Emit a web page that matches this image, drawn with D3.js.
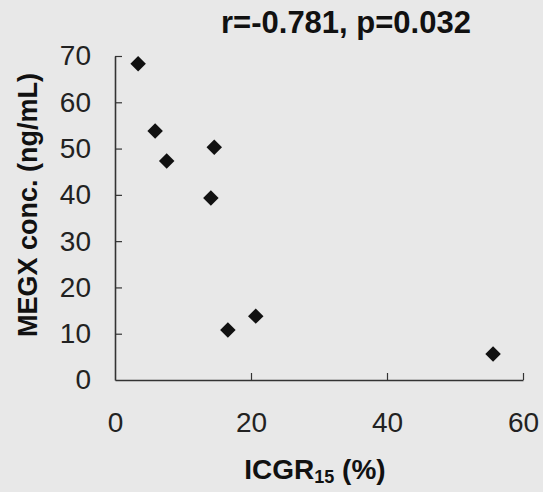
<!DOCTYPE html>
<html>
<head>
<meta charset="utf-8">
<script src="https://cdn.jsdelivr.net/npm/d3@7"></script>
<style>
  body { margin: 0; background: #e8e8e8; }
  text { font-family: "Liberation Sans", Arial, sans-serif; }
</style>
</head>
<body>
<div id="chart"></div>
<script>
// ICGR15 (%) vs MEGX concentration (ng/mL)
const icgr = [3.4, 5.9, 7.6, 14.6, 14.1, 16.6, 20.7, 55.6];
const megx = [68.3, 53.8, 47.3, 50.3, 39.3, 10.8, 13.8, 5.6];
const xTicks = [0, 20, 40, 60];
const yTicks = [0, 10, 20, 30, 40, 50, 60, 70];
const title = "r=-0.781, p=0.032";

function draw() {
    const W = 543, H = 492;
    const margin = { top: 56, right: 20, bottom: 112, left: 115 },
        width = W - margin.left - margin.right,
        height = H - margin.top - margin.bottom;

    const svg = d3.select("#chart")
        .append("svg")
        .attr("width", W)
        .attr("height", H);

    svg.append("rect").attr("width", W).attr("height", H).attr("fill", "#e8e8e8");

    const g = svg.append("g")
        .attr("transform", `translate(${margin.left},${margin.top})`);

    const x = d3.scaleLinear().domain([0, 60]).range([0, 408]);
    const y = d3.scaleLinear().domain([0, 70]).range([height, 0]);

    // x axis: ticks point up, labels well below
    const xAxis = g.append("g").attr("transform", `translate(0,${height})`)
        .call(d3.axisBottom(x).tickValues(xTicks).tickSizeInner(-7).tickSizeOuter(0).tickPadding(32));
    xAxis.select(".domain").attr("stroke", "#333").attr("stroke-width", 1.6);
    xAxis.selectAll(".tick line").attr("stroke", "#333").attr("stroke-width", 1.2)
        .filter(d => d === 0).remove();
    xAxis.selectAll("text").attr("font-size", 28).attr("fill", "#222");

    // y axis: ticks point right
    const yAxis = g.append("g")
        .call(d3.axisLeft(y).tickValues(yTicks).tickSizeInner(-7).tickSizeOuter(0).tickPadding(24));
    yAxis.select(".domain").attr("stroke", "#333").attr("stroke-width", 1.6);
    yAxis.selectAll(".tick line").attr("stroke", "#333").attr("stroke-width", 1.2)
        .filter(d => d === 0).remove();
    yAxis.selectAll("text").attr("font-size", 28).attr("fill", "#222");

    // points as black diamonds
    const diamond = d3.symbol().type(d3.symbolSquare).size(120);
    g.selectAll(".pt")
        .data(icgr.map((v, i) => [v, megx[i]]))
        .join("path")
        .attr("class", "pt")
        .attr("d", diamond)
        .attr("transform", d => `translate(${x(d[0])},${y(d[1])}) rotate(45)`)
        .attr("fill", "#111");

    // title
    svg.append("text")
        .attr("x", 346).attr("y", 33)
        .attr("text-anchor", "middle")
        .attr("font-size", 31).attr("font-weight", "bold").attr("fill", "#111")
        .text(title);

    // y label
    svg.append("text")
        .attr("transform", "translate(37,205) rotate(-90)")
        .attr("text-anchor", "middle")
        .attr("font-size", 27).attr("font-weight", "bold").attr("fill", "#111")
        .text("MEGX conc. (ng/mL)");

    // x label with subscript
    const xl = svg.append("text")
        .attr("x", 315).attr("y", 479)
        .attr("text-anchor", "middle")
        .attr("font-size", 28).attr("font-weight", "bold").attr("fill", "#111");
    xl.append("tspan").text("ICGR");
    xl.append("tspan").attr("font-size", 18).attr("dy", 4).text("15");
    xl.append("tspan").attr("dy", -4).text(" (%)");
}

window.onload = draw;
</script>
</body>
</html>
